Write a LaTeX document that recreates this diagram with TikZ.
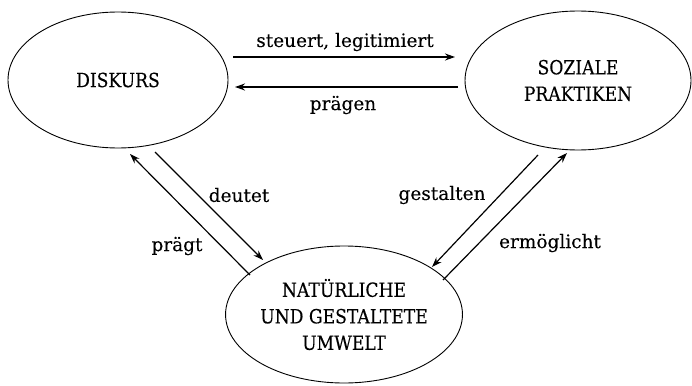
\documentclass[tikz,border=0pt]{standalone}
\usepackage{fontspec}
\setmainfont{DejaVu Serif}[FakeBold=0.15]
\newfontfamily\spherefont{DejaVu Serif}[FakeStretch=0.88, FakeBold=0.2]
\usetikzlibrary{arrows.meta,shapes.geometric}

\tikzset{
  sphere/.style={draw, ellipse, line width=0.9pt, inner sep=0pt, align=center,
    font=\spherefont\fontsize{19.5}{26.5}\selectfont},
  flow/.style={line width=2pt, -{Stealth[length=10pt,width=7pt]}},
  slant/.style={line width=1.2pt, -{Stealth[length=10pt,width=7pt]}},
  lbl/.style={font=\fontsize{18.5}{22}\selectfont, inner sep=0pt}
}

\begin{document}
\begin{tikzpicture}[x=1pt, y=-1pt]
\useasboundingbox (0,0) rectangle (692,385);

% the three spheres
\node[sphere, minimum width=220pt, minimum height=136pt] (disk) at (118,80) {DISKURS};
\node[sphere, minimum width=226pt, minimum height=139pt] (soz) at (578,80.5) {SOZIALE\\PRAKTIKEN};
\node[sphere, minimum width=222pt, minimum height=137pt] (umw) at (344,314.5) {NATÜRLICHE\\UND GESTALTETE\\UMWELT};

% discourse <-> social practices
\draw[flow] ([shift={(115,-23)}]disk.center) -- ([shift={(-123,-23.5)}]soz.center);
\draw[flow] ([shift={(-120,6.5)}]soz.center) -- ([shift={(117,7)}]disk.center);

% discourse <-> environment
\draw[slant] ([shift={(37,72)}]disk.center) -- ([shift={(-81,-54.5)}]umw.center);
\draw[slant] ([shift={(-94,-39.5)}]umw.center) -- ([shift={(12,74)}]disk.center);

% social practices <-> environment
\draw[slant] ([shift={(-40,74.5)}]soz.center) -- ([shift={(88,-47.5)}]umw.center);
\draw[slant] ([shift={(99,-34.5)}]umw.center) -- ([shift={(-11,72.5)}]soz.center);

% labels
\node[lbl] (l1) at (345,42) {steuert, legitimiert};
\node[lbl] (l2) at (343,105) {prägen};
\node[lbl] (l3) at (239,195) {deutet};
\node[lbl] (l4) at (177,246) {prägt};
\node[lbl] (l5) at (442,195) {gestalten};
\node[lbl] (l6) at (550,243) {ermöglicht};
\end{tikzpicture}
\end{document}
